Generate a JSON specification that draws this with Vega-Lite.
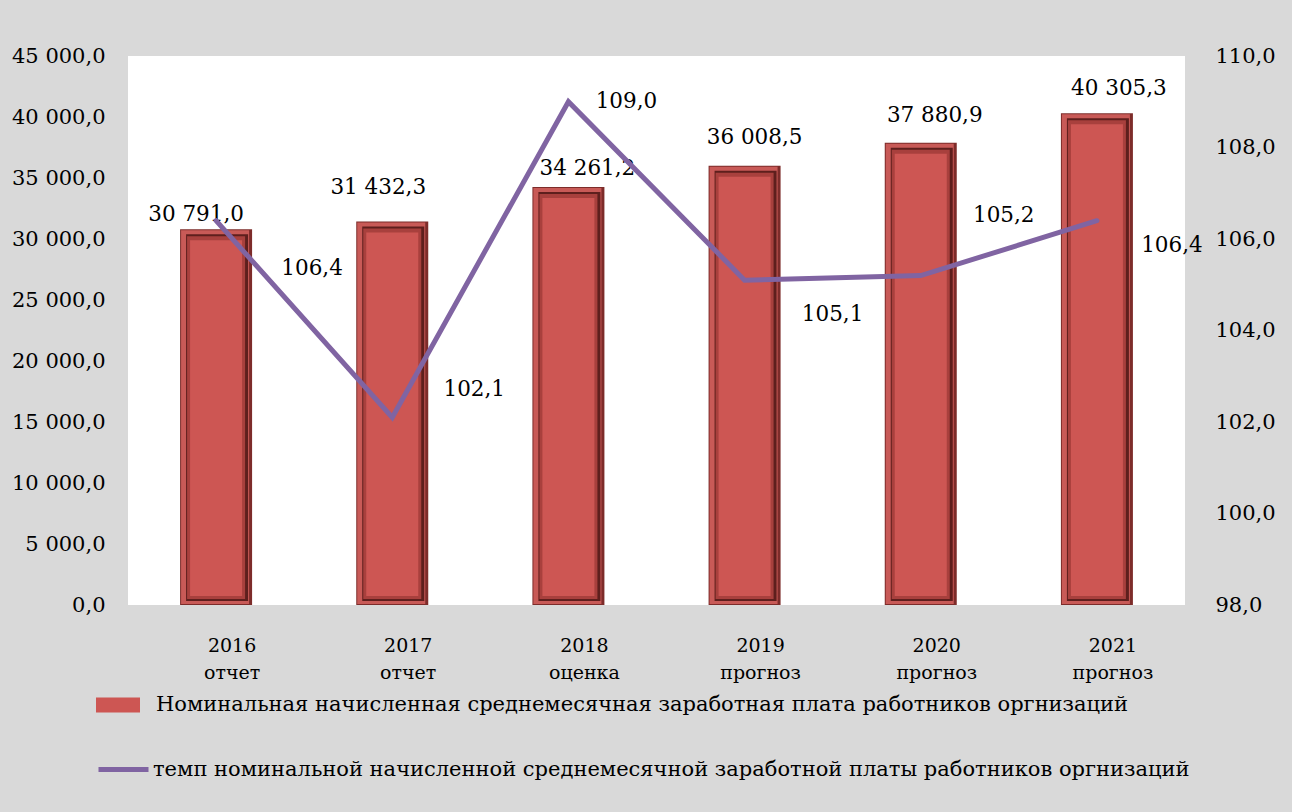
{
  "$schema": "https://vega.github.io/schema/vega-lite/v6.json",
  "width": 1057,
  "height": 549,
  "autosize": {"type": "none"},
  "padding": {"left": 128, "top": 56, "right": 107, "bottom": 207},
  "background": "#d9d9d9",
  "config": {
    "view": {"fill": "white", "stroke": null},
    "locale": {"number": {"decimal": ",", "thousands": " ", "grouping": [3], "currency": ["", ""]}},
    "font": "DejaVu Serif",
    "text": {"font": "DejaVu Serif", "fontSize": 21.5, "color": "black"}
  },
  "data": {
    "values": [
      {"period": "2016 отчет", "salary": 30791.0, "growth": 106.4},
      {"period": "2017 отчет", "salary": 31432.3, "growth": 102.1},
      {"period": "2018 оценка", "salary": 34261.2, "growth": 109.0},
      {"period": "2019 прогноз", "salary": 36008.5, "growth": 105.1},
      {"period": "2020 прогноз", "salary": 37880.9, "growth": 105.2},
      {"period": "2021 прогноз", "salary": 40305.3, "growth": 106.4}
    ]
  },
  "encoding": {
    "x": {
      "field": "period",
      "type": "nominal",
      "sort": null,
      "scale": {"paddingInner": 0, "paddingOuter": 0},
      "axis": {
        "title": null,
        "domain": false,
        "ticks": false,
        "labelAngle": 0,
        "labelExpr": "split(datum.label, ' ')",
        "labelFont": "DejaVu Serif",
        "labelFontSize": 19,
        "labelColor": "black",
        "labelLineHeight": 27,
        "labelPadding": 31,
        "labelBaseline": "top",
        "labelOffset": 16
      }
    }
  },
  "layer": [
    {
      "encoding": {
        "y": {
          "field": "salary",
          "type": "quantitative",
          "scale": {"domain": [0, 45000], "nice": false},
          "axis": {
            "orient": "left",
            "title": null,
            "domain": false,
            "ticks": false,
            "grid": false,
            "values": [0, 5000, 10000, 15000, 20000, 25000, 30000, 35000, 40000, 45000],
            "format": ",.1f",
            "labelFont": "DejaVu Serif",
            "labelFontSize": 21,
            "labelColor": "black",
            "labelPadding": 23
          }
        }
      },
      "layer": [
        {"mark": {"type": "bar", "size": 72, "color": "#7d2c2a"}},
        {"mark": {"type": "bar", "size": 68, "color": "#c85a57", "yOffset": 1, "y2Offset": -1, "xOffset": -1}, "encoding": {"y2": {"datum": 0}}},
        {"mark": {"type": "bar", "size": 62, "color": "#5e1f1d", "yOffset": 5, "y2Offset": -4, "xOffset": 1}, "encoding": {"y2": {"datum": 0}}},
        {"mark": {"type": "bar", "size": 58, "color": "#a8403d", "yOffset": 7, "y2Offset": -6}, "encoding": {"y2": {"datum": 0}}},
        {
          "mark": {"type": "bar", "size": 52, "yOffset": 11, "y2Offset": -9},
          "encoding": {
            "y2": {"datum": 0},
            "fill": {
              "datum": "Номинальная начисленная среднемесячная заработная плата работников оргнизаций",
              "type": "nominal",
              "scale": {"range": ["#cd5653"]},
              "legend": {
                "title": null,
                "orient": "none",
                "legendX": -32,
                "legendY": 627,
                "padding": 0,
                "symbolType": "M-1,-0.34H1V0.34H-1Z",
                "symbolSize": 1936,
                "symbolStrokeWidth": 0,
                "labelOffset": 16,
                "labelFont": "DejaVu Serif",
                "labelFontSize": 21,
                "labelColor": "black",
                "labelLimit": 1300
              }
            }
          }
        },
        {"transform": [{"filter": "datum.period == '2016 отчет'"}], "mark": {"type": "text", "dx": -20, "dy": -14}, "encoding": {"text": {"field": "salary", "format": ",.1f"}}},
        {"transform": [{"filter": "datum.period == '2017 отчет'"}], "mark": {"type": "text", "dx": -14, "dy": -34}, "encoding": {"text": {"field": "salary", "format": ",.1f"}}},
        {"transform": [{"filter": "datum.period == '2018 оценка'"}], "mark": {"type": "text", "dx": 19, "dy": -18}, "encoding": {"text": {"field": "salary", "format": ",.1f"}}},
        {"transform": [{"filter": "datum.period == '2019 прогноз'"}], "mark": {"type": "text", "dx": 10, "dy": -28}, "encoding": {"text": {"field": "salary", "format": ",.1f"}}},
        {"transform": [{"filter": "datum.period == '2020 прогноз'"}], "mark": {"type": "text", "dx": 14, "dy": -27}, "encoding": {"text": {"field": "salary", "format": ",.1f"}}},
        {"transform": [{"filter": "datum.period == '2021 прогноз'"}], "mark": {"type": "text", "dx": 22, "dy": -24}, "encoding": {"text": {"field": "salary", "format": ",.1f"}}}
      ]
    },
    {
      "encoding": {
        "y": {
          "field": "growth",
          "type": "quantitative",
          "scale": {"domain": [98, 110], "nice": false, "zero": false},
          "axis": {
            "orient": "right",
            "title": null,
            "domain": false,
            "ticks": false,
            "grid": false,
            "values": [98, 100, 102, 104, 106, 108, 110],
            "format": ".1f",
            "labelFont": "DejaVu Serif",
            "labelFontSize": 21,
            "labelColor": "black",
            "labelPadding": 30
          }
        }
      },
      "layer": [
        {
          "mark": {"type": "line", "strokeWidth": 5, "strokeCap": "round", "strokeJoin": "miter"},
          "encoding": {
            "stroke": {
              "datum": "темп номинальной начисленной среднемесячной заработной платы работников оргнизаций",
              "type": "nominal",
              "scale": {"range": ["#8064a2"]},
              "legend": {
                "title": null,
                "orient": "none",
                "legendX": -32,
                "legendY": 686,
                "padding": 0,
                "symbolType": "stroke",
                "symbolSize": 2500,
                "symbolStrokeWidth": 5,
                "labelOffset": 2,
                "labelFont": "DejaVu Serif",
                "labelFontSize": 21,
                "labelColor": "black",
                "labelLimit": 1300
              }
            }
          }
        },
        {"transform": [{"filter": "datum.period == '2016 отчет'"}], "mark": {"type": "text", "dx": 96, "dy": 48}, "encoding": {"text": {"field": "growth", "format": ".1f"}}},
        {"transform": [{"filter": "datum.period == '2017 отчет'"}], "mark": {"type": "text", "dx": 82, "dy": -27}, "encoding": {"text": {"field": "growth", "format": ".1f"}}},
        {"transform": [{"filter": "datum.period == '2018 оценка'"}], "mark": {"type": "text", "dx": 58, "dy": 0}, "encoding": {"text": {"field": "growth", "format": ".1f"}}},
        {"transform": [{"filter": "datum.period == '2019 прогноз'"}], "mark": {"type": "text", "dx": 88, "dy": 35}, "encoding": {"text": {"field": "growth", "format": ".1f"}}},
        {"transform": [{"filter": "datum.period == '2020 прогноз'"}], "mark": {"type": "text", "dx": 83, "dy": -60}, "encoding": {"text": {"field": "growth", "format": ".1f"}}},
        {"transform": [{"filter": "datum.period == '2021 прогноз'"}], "mark": {"type": "text", "dx": 75, "dy": 25}, "encoding": {"text": {"field": "growth", "format": ".1f"}}}
      ]
    }
  ],
  "resolve": {"scale": {"y": "independent"}}
}
